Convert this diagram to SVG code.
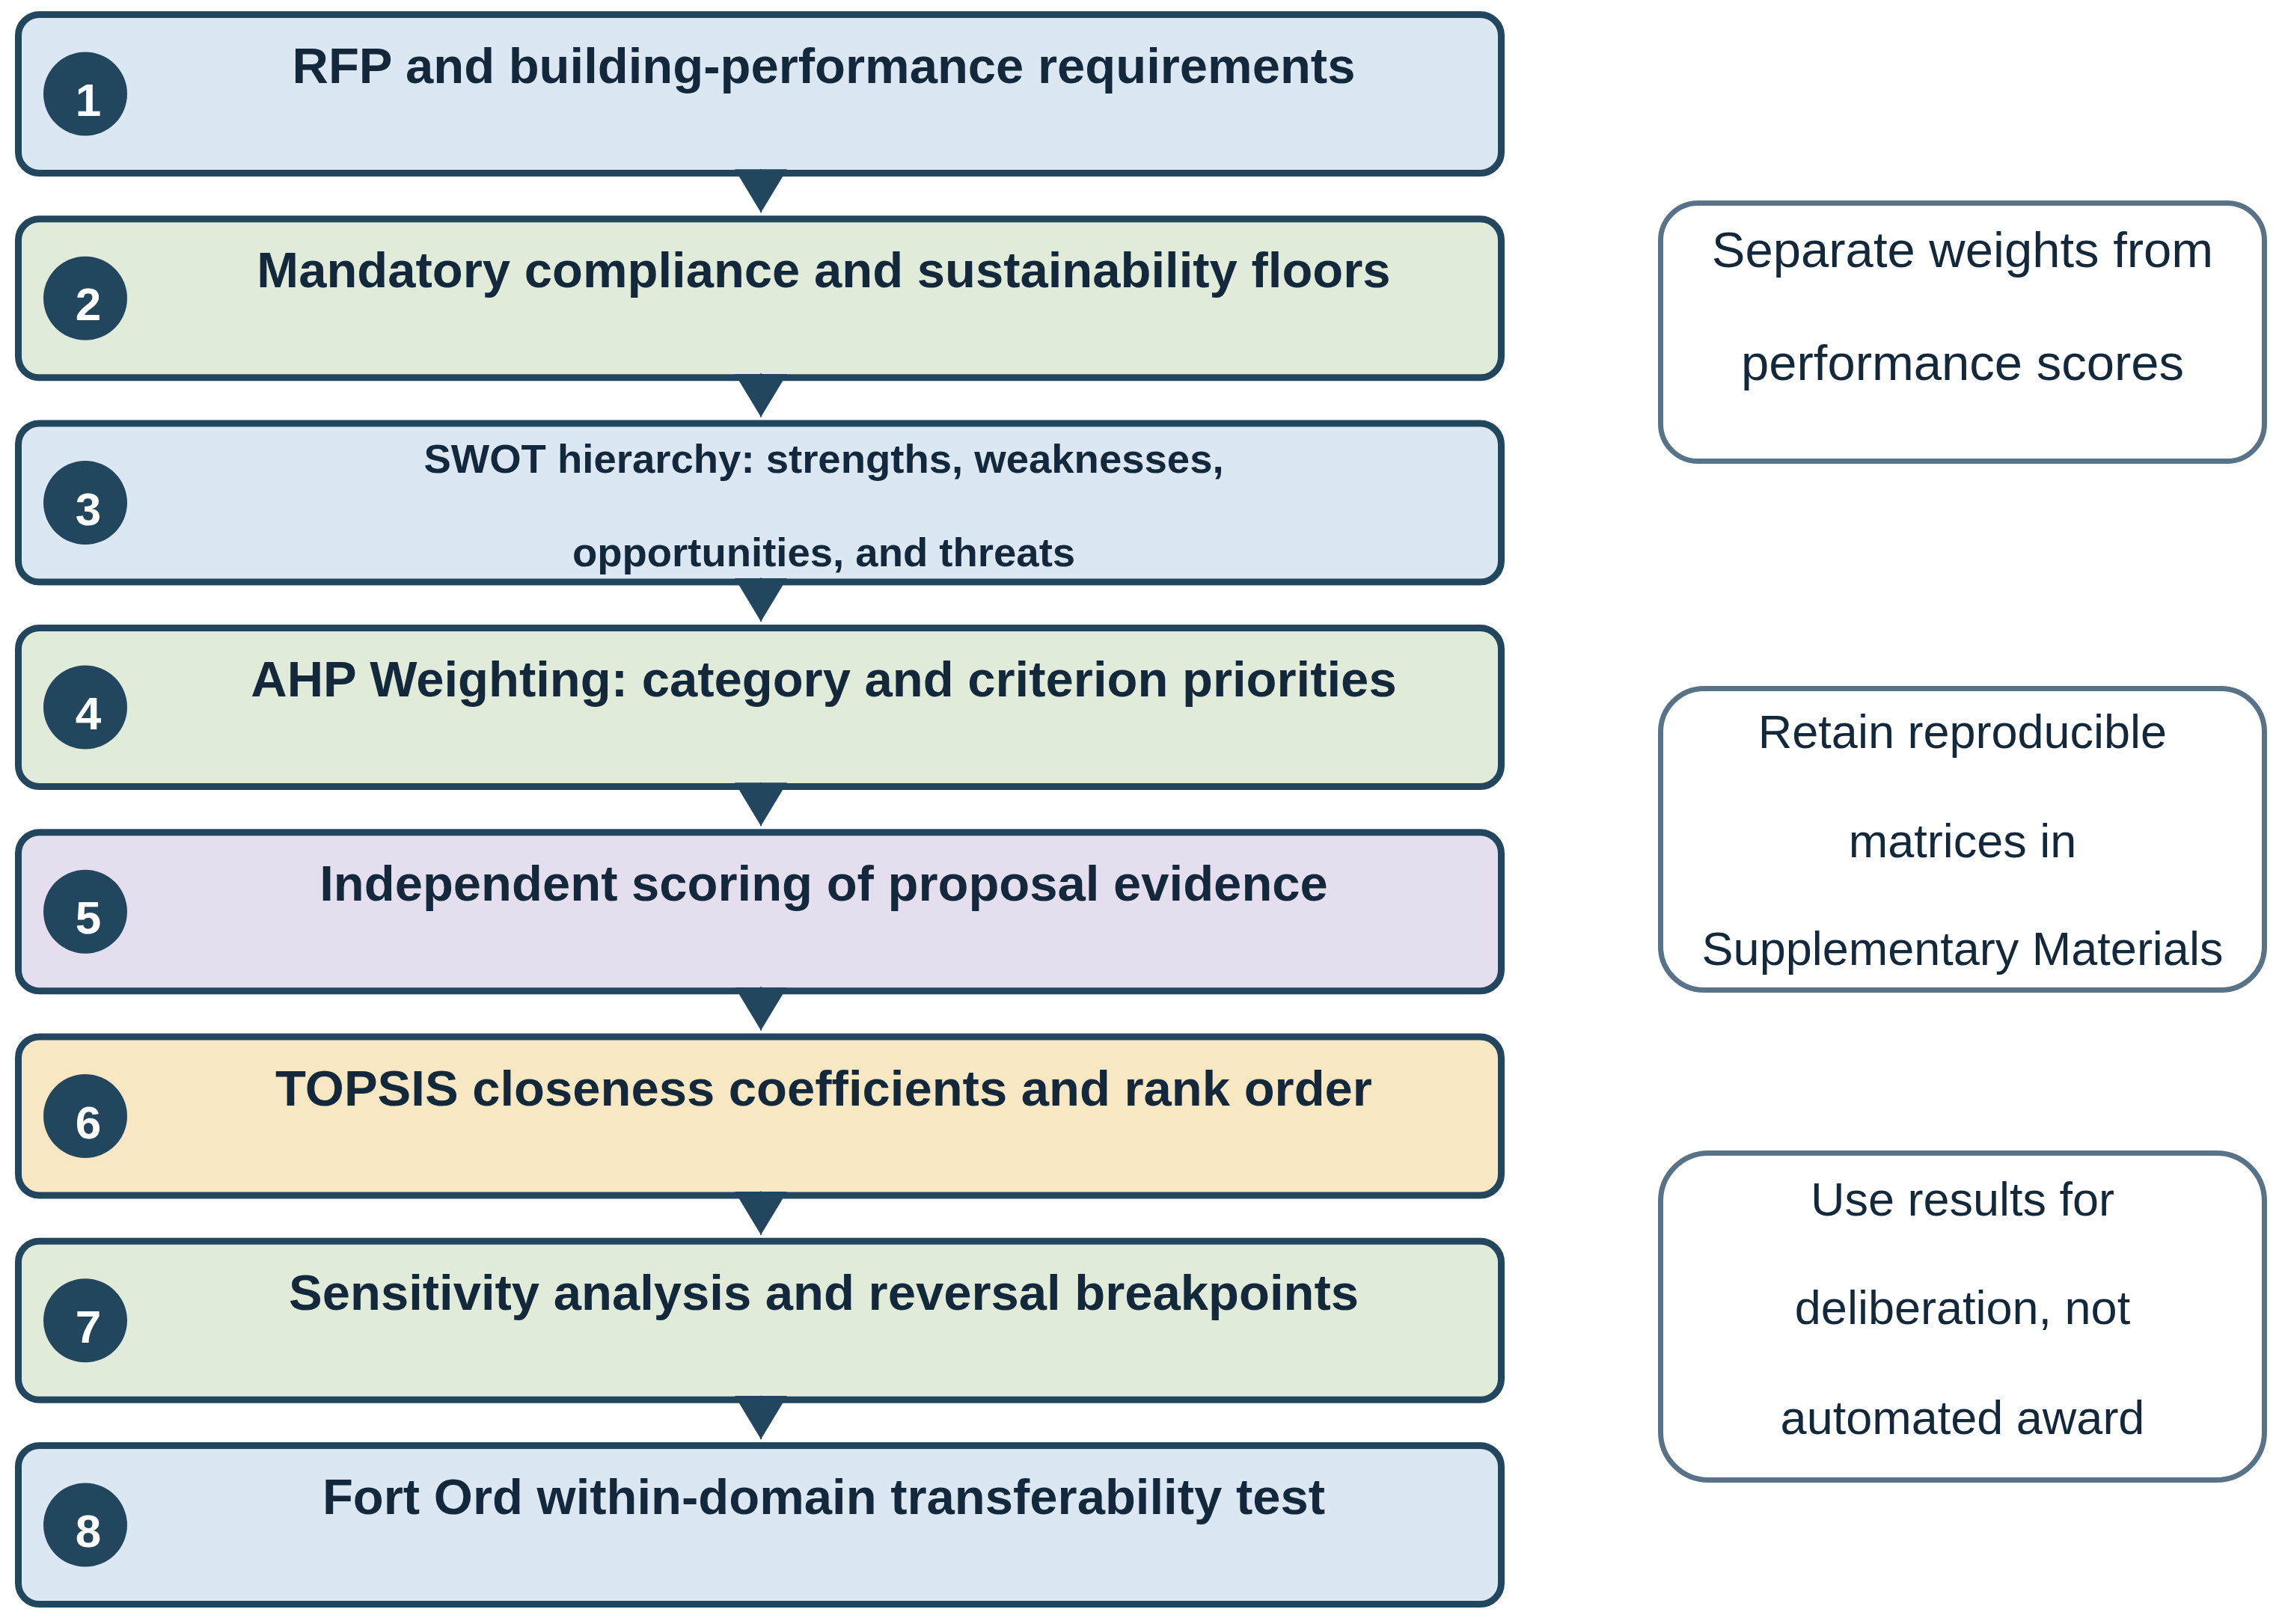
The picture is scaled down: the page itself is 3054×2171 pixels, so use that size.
<svg xmlns="http://www.w3.org/2000/svg" width="3054" height="2171" viewBox="0 0 3054 2171">
<defs>
<style>
.step{stroke:#23465f;stroke-width:9}
.blue{fill:#dbe8f4}
.green{fill:#e1ebd9}
.lav{fill:#e4deee}
.sand{fill:#f8e7c3}
.badge{fill:#23465f}
.num{font-family:"Liberation Sans",Arial,sans-serif;font-weight:bold;font-size:62px;fill:#ffffff;text-anchor:middle}
.title{font-family:"Liberation Sans",Arial,sans-serif;font-weight:bold;font-size:67px;fill:#14283c;text-anchor:middle}
.title2{font-family:"Liberation Sans",Arial,sans-serif;font-weight:bold;font-size:54.5px;fill:#14283c;text-anchor:middle}
.note{fill:#ffffff;stroke:#587387;stroke-width:7}
.ntext{font-family:"Liberation Sans",Arial,sans-serif;font-size:63px;fill:#14283c;text-anchor:middle}
.conn{stroke:#23465f;stroke-width:2;fill:none}
</style>
<marker id="tri" markerUnits="userSpaceOnUse" viewBox="0 0 58 70" refX="58" refY="35" markerWidth="58" markerHeight="70" orient="auto">
<path d="M0,0 L58,35 L0,70 Z" fill="#23465f"/>
</marker>
</defs>
<rect width="3054" height="2171" fill="#ffffff"/>

<g id="step1">
<rect class="step blue" x="24.5" y="19.5" width="1982" height="212" rx="28"/>
<circle class="badge" cx="114" cy="125.5" r="56"/>
<text class="num" x="118" y="155">1</text>
<text class="title" x="1101" y="111">RFP and building-performance requirements</text>
</g>
<g id="step2">
<rect class="step green" x="24.5" y="292.8" width="1982" height="212" rx="28"/>
<circle class="badge" cx="114" cy="398.8" r="56"/>
<text class="num" x="118" y="428.3">2</text>
<text class="title" x="1101" y="384.3">Mandatory compliance and sustainability floors</text>
</g>
<g id="step3">
<rect class="step blue" x="24.5" y="566.1" width="1982" height="212" rx="28"/>
<circle class="badge" cx="114" cy="672.1" r="56"/>
<text class="num" x="118" y="701.6">3</text>
<text class="title2" x="1101" y="632">SWOT hierarchy: strengths, weaknesses,</text>
<text class="title2" x="1101" y="757">opportunities, and threats</text>
</g>
<g id="step4">
<rect class="step green" x="24.5" y="839.4" width="1982" height="212" rx="28"/>
<circle class="badge" cx="114" cy="945.4" r="56"/>
<text class="num" x="118" y="974.9">4</text>
<text class="title" x="1101" y="930.9">AHP Weighting: category and criterion priorities</text>
</g>
<g id="step5">
<rect class="step lav" x="24.5" y="1112.7" width="1982" height="212" rx="28"/>
<circle class="badge" cx="114" cy="1218.7" r="56"/>
<text class="num" x="118" y="1248.2">5</text>
<text class="title" x="1101" y="1204.2">Independent scoring of proposal evidence</text>
</g>
<g id="step6">
<rect class="step sand" x="24.5" y="1386" width="1982" height="212" rx="28"/>
<circle class="badge" cx="114" cy="1492" r="56"/>
<text class="num" x="118" y="1521.5">6</text>
<text class="title" x="1101" y="1477.5">TOPSIS closeness coefficients and rank order</text>
</g>
<g id="step7">
<rect class="step green" x="24.5" y="1659.3" width="1982" height="212" rx="28"/>
<circle class="badge" cx="114" cy="1765.3" r="56"/>
<text class="num" x="118" y="1794.8">7</text>
<text class="title" x="1101" y="1750.8">Sensitivity analysis and reversal breakpoints</text>
</g>
<g id="step8">
<rect class="step blue" x="24.5" y="1932.6" width="1982" height="212" rx="28"/>
<circle class="badge" cx="114" cy="2038.6" r="56"/>
<text class="num" x="118" y="2068.1">8</text>
<text class="title" x="1101" y="2024.1">Fort Ord within-domain transferability test</text>
</g>

<g id="note1">
<rect class="note" x="2219.5" y="271.5" width="807" height="345" rx="50"/>
<text class="ntext" x="2623" y="357" style="font-size:67px">Separate weights from</text>
<text class="ntext" x="2623" y="508" style="font-size:67px">performance scores</text>
</g>
<g id="note2">
<rect class="note" x="2219.5" y="920.5" width="807" height="403" rx="58"/>
<text class="ntext" x="2623" y="1000">Retain reproducible</text>
<text class="ntext" x="2623" y="1146">matrices in</text>
<text class="ntext" x="2623" y="1290">Supplementary Materials</text>
</g>
<g id="note3">
<rect class="note" x="2219.5" y="1541.5" width="807" height="437" rx="64"/>
<text class="ntext" x="2623" y="1625">Use results for</text>
<text class="ntext" x="2623" y="1770">deliberation, not</text>
<text class="ntext" x="2623" y="1917">automated award</text>
</g>

<g id="connectors">
<path class="conn" d="M1017,226 V284.3" marker-end="url(#tri)"/>
<path class="conn" d="M1017,499.3 V557.6" marker-end="url(#tri)"/>
<path class="conn" d="M1017,772.6 V830.9" marker-end="url(#tri)"/>
<path class="conn" d="M1017,1045.9 V1104.2" marker-end="url(#tri)"/>
<path class="conn" d="M1017,1319.2 V1377.5" marker-end="url(#tri)"/>
<path class="conn" d="M1017,1592.5 V1650.8" marker-end="url(#tri)"/>
<path class="conn" d="M1017,1865.8 V1924.1" marker-end="url(#tri)"/>
</g>
</svg>
